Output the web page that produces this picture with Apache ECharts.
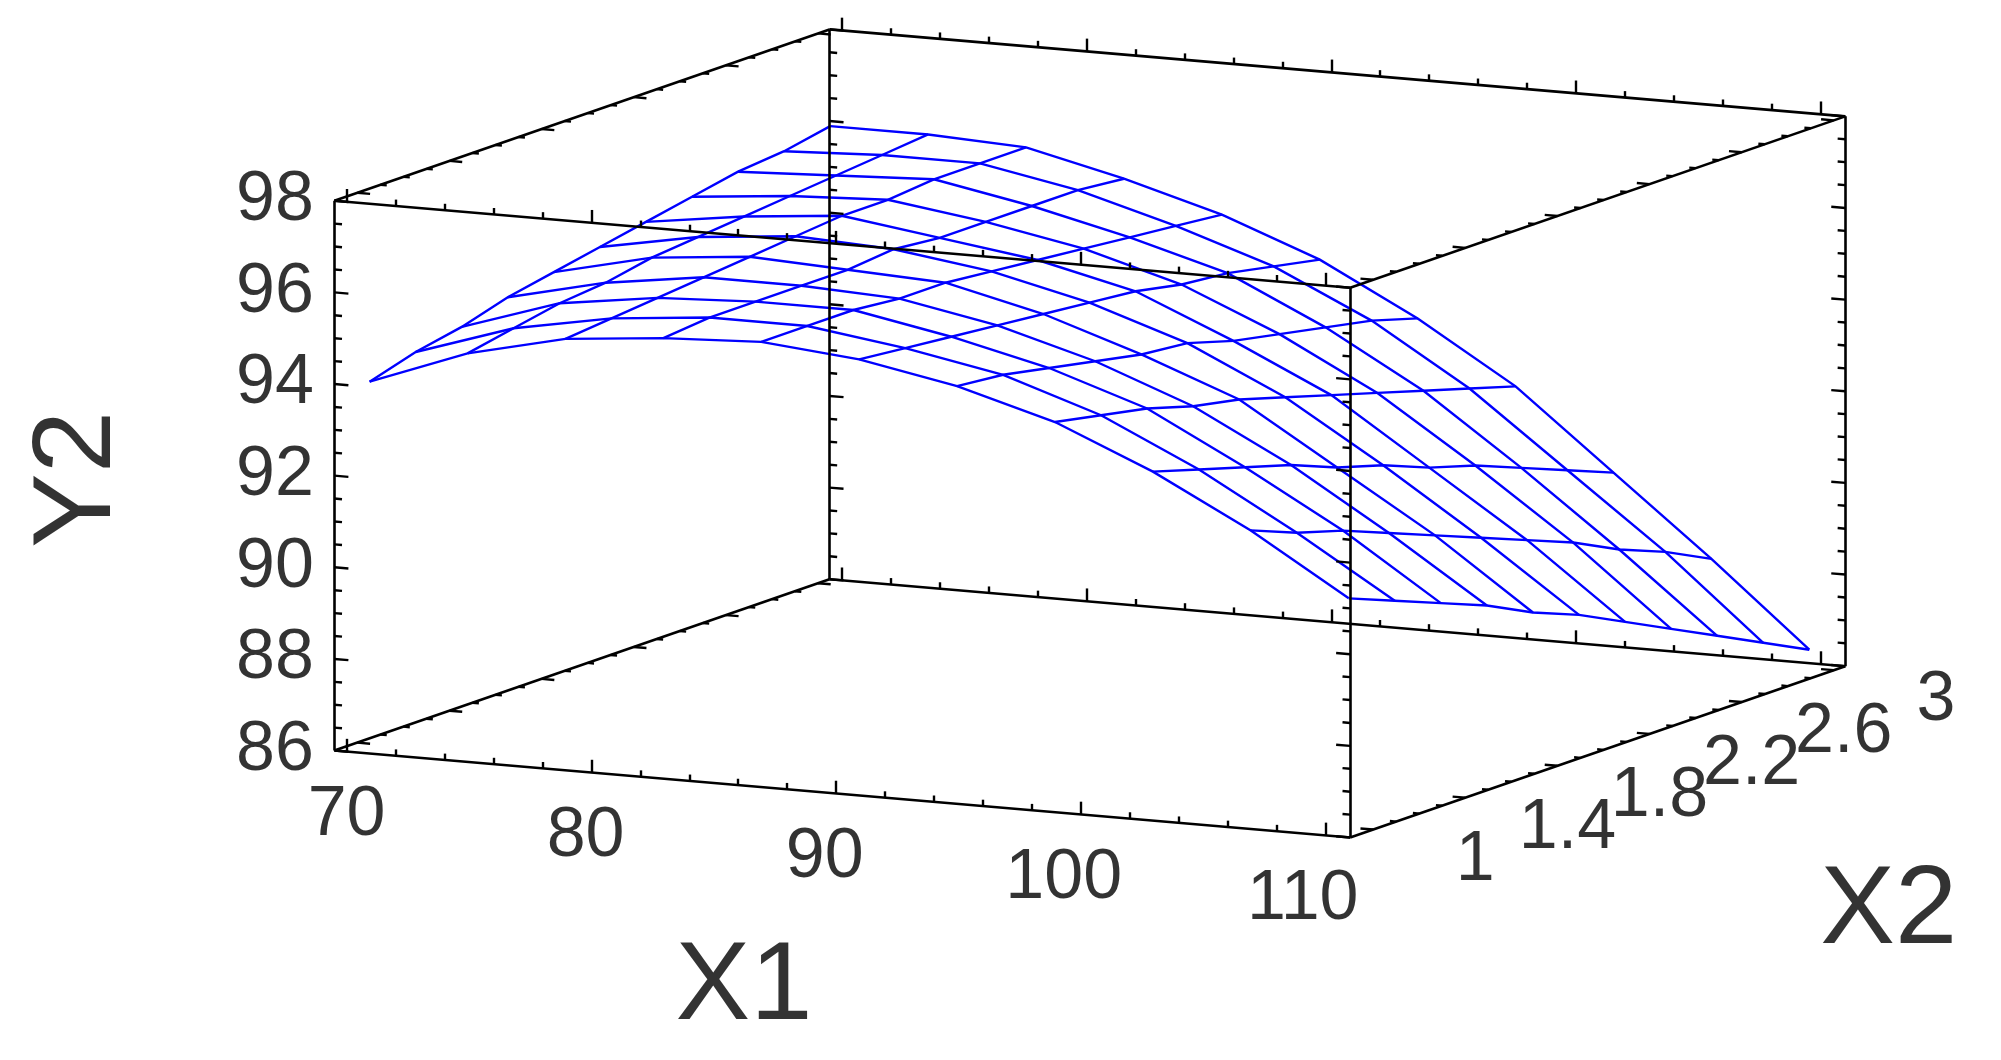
<!DOCTYPE html>
<html>
<head>
<meta charset="utf-8">
<script src="https://cdn.jsdelivr.net/npm/echarts@6/dist/echarts.min.js"></script>
<style>html,body{margin:0;padding:0;background:#fff}#main{width:2001px;height:1060px}</style>
</head>
<body>
<div id="main"></div>
<script>
// surface grid
var x1Vals = [70, 74, 78, 82, 86, 90, 94, 98, 102, 106, 110];
var x2Vals = [1.0, 1.2, 1.4, 1.6, 1.8, 2.0, 2.2, 2.4, 2.6, 2.8, 3.0];
// one row per x2 value, columns follow x1Vals
var y2Rows = [
  [93.9, 94.7, 95.2, 95.4, 95.5, 95.3, 94.9, 94.3, 93.4, 92.3, 91.0],
  [94.2, 94.9, 95.3, 95.5, 95.5, 95.2, 94.8, 94.1, 93.1, 91.9, 90.6],
  [94.4, 95.1, 95.4, 95.5, 95.5, 95.1, 94.6, 93.9, 92.8, 91.6, 90.2],
  [94.7, 95.2, 95.5, 95.5, 95.4, 95.0, 94.4, 93.6, 92.5, 91.2, 89.8],
  [94.9, 95.4, 95.6, 95.5, 95.4, 94.9, 94.2, 93.4, 92.1, 90.8, 89.3],
  [95.1, 95.5, 95.7, 95.6, 95.3, 94.8, 94.1, 93.1, 91.8, 90.4, 88.9],
  [95.3, 95.6, 95.8, 95.5, 95.2, 94.7, 93.8, 92.8, 91.4, 90.0, 88.4],
  [95.5, 95.7, 95.8, 95.5, 95.1, 94.5, 93.6, 92.5, 91.1, 89.6, 87.9],
  [95.7, 95.8, 95.9, 95.5, 95.0, 94.4, 93.4, 92.2, 90.7, 89.1, 87.4],
  [95.8, 95.9, 95.9, 95.5, 94.9, 94.2, 93.2, 91.9, 90.3, 88.7, 86.9],
  [96.0, 96.0, 95.9, 95.4, 94.8, 94.0, 92.9, 91.6, 89.9, 88.2, 86.4]
];
var yTickLabels = [86, 88, 90, 92, 94, 96, 98];
var x1TickLabels = [70, 80, 90, 100, 110];
var x2TickLabels = [1, 1.4, 1.8, 2.2, 2.6, 3];

// axis ranges of the 3D box
var X1MIN = 69.5, X1MAX = 111, X2MIN = 0.9, X2MAX = 3.05, YMIN = 86, YMAX = 98;

// oblique projection onto the drawing plane
function proj(x1, x2, y) {
  var fx = (x1 - X1MIN) / (X1MAX - X1MIN);
  var fz = (x2 - X2MIN) / (X2MAX - X2MIN);
  var fy = (y - YMIN) / (YMAX - YMIN);
  return [262 + fx * 796 + fz * 388, 587 + fx * 68 - fz * 134 - fy * 430];
}

// surface mesh
var mesh = [];
for (var k = 0; k < x2Vals.length; k++) {
  var pts = [];
  for (var i = 0; i < x1Vals.length; i++) pts.push(proj(x1Vals[i], x2Vals[k], y2Rows[k][i]));
  mesh.push({coords: pts});
}
for (var i = 0; i < x1Vals.length; i++) {
  var pts = [];
  for (var k = 0; k < x2Vals.length; k++) pts.push(proj(x1Vals[i], x2Vals[k], y2Rows[k][i]));
  mesh.push({coords: pts});
}

// box edges
var A = [X1MIN, X1MAX], B = [X2MIN, X2MAX], C = [YMIN, YMAX];
var box = [];
B.forEach(function (b) { C.forEach(function (c) { box.push({coords: [proj(A[0], b, c), proj(A[1], b, c)]}); }); });
A.forEach(function (a) { C.forEach(function (c) { box.push({coords: [proj(a, B[0], c), proj(a, B[1], c)]}); }); });
A.forEach(function (a) { B.forEach(function (b) { box.push({coords: [proj(a, b, C[0]), proj(a, b, C[1])]}); }); });

// tick marks
var ticks = [];
function tick(p, dx, dy, len) { ticks.push({coords: [p, [p[0] + dx * len, p[1] + dy * len]]}); }
function near(v, step, base) { var r = (v - base) / step; return Math.abs(r - Math.round(r)) < 1e-6; }
for (var y = YMIN; y <= YMAX + 1e-6; y += 0.5) {
  var len = near(y, 2, 86) ? 11 : 6;
  tick(proj(A[0], B[0], y), 1, 0.085, len);
  tick(proj(A[0], B[1], y), 1, 0.085, len);
  tick(proj(A[1], B[0], y), -1, -0.085, len);
  tick(proj(A[1], B[1], y), -1, -0.085, len);
}
for (var x = 70; x <= 110 + 1e-6; x += 2) {
  var len = near(x, 10, 70) ? 10 : 5;
  B.forEach(function (b) { C.forEach(function (c) { tick(proj(x, b, c), 0, -1, len); }); });
}
for (var z = 1; z <= 3 + 1e-6; z += 0.1) {
  var len = near(z, 0.4, 1) ? 10 : 5;
  C.forEach(function (c) {
    tick(proj(A[0], z, c), 0.996, 0.085, len);
    tick(proj(A[1], z, c), -0.996, -0.085, len);
  });
}

// text
var FONT = 'Liberation Sans, Arial, sans-serif';
var texts = [];
yTickLabels.forEach(function (v) {
  var p = proj(A[0], B[0], v);
  texts.push({value: [p[0] - 16, p[1]], name: String(v), align: 'right', size: 70});
});
x1TickLabels.forEach(function (v) {
  var p = proj(v, B[0], YMIN);
  texts.push({value: [p[0] - (v - 70) / 40 * 18, p[1] + 50], name: String(v), align: 'center', size: 70});
});
x2TickLabels.forEach(function (v) {
  var p = proj(A[1], v, YMIN);
  texts.push({value: [p[0] + 80, p[1] + 24], name: String(v), align: 'center', size: 70});
});
texts.push({value: [1480, 713], name: 'X2', align: 'center', size: 112});
texts.push({value: [583, 773], name: 'X1', align: 'center', size: 112});
texts.push({value: [62, 375], name: 'Y2', align: 'center', size: 112, rotate: 90});

var chart = echarts.init(document.getElementById('main'));
chart.setOption({
  animation: false,
  backgroundColor: '#fff',
  grid: {left: 0, right: 0, top: 0, bottom: 0},
  xAxis: {type: 'value', min: 0, max: 1568, show: false},
  yAxis: {type: 'value', min: 0, max: 829, inverse: true, show: false},
  series: [
    {type: 'lines', coordinateSystem: 'cartesian2d', polyline: true, silent: true,
     lineStyle: {color: '#0000ff', width: 2.4, opacity: 1}, data: mesh},
    {type: 'lines', coordinateSystem: 'cartesian2d', silent: true,
     lineStyle: {color: '#000', width: 2.6, opacity: 1}, data: box},
    {type: 'lines', coordinateSystem: 'cartesian2d', silent: true,
     lineStyle: {color: '#000', width: 2.4, opacity: 1}, data: ticks},
    {type: 'scatter', symbolSize: 0, silent: true,
     data: texts.map(function (t) {
       return {value: t.value, name: t.name,
         label: {show: true, position: 'inside', formatter: t.name, color: '#000',
           fontFamily: FONT, fontSize: t.size, align: t.align, verticalAlign: 'middle',
           rotate: t.rotate || 0}};
     })}
  ]
});
</script>
</body>
</html>
